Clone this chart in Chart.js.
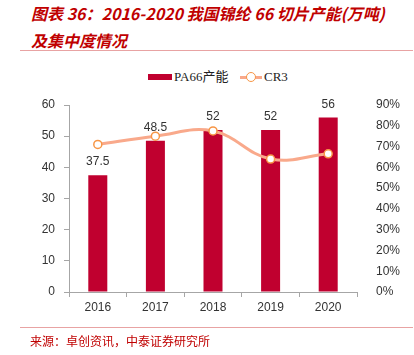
<!DOCTYPE html>
<html>
<head>
<meta charset="utf-8">
<script src="https://cdn.jsdelivr.net/npm/chart.js@4/dist/chart.umd.min.js"></script>
<style>
  html, body { margin: 0; padding: 0; background: #fff; }
  body { width: 414px; height: 355px; position: relative; overflow: hidden; }
  #c { position: absolute; left: 0; top: 0; }
  .title { position: absolute; left: 31px; color: #C00000; font-family: "Noto Sans CJK SC", sans-serif; font-weight: bold; font-style: italic; font-size: 16px; white-space: nowrap; line-height: 20px; }
  .rule { position: absolute; left: 20px; width: 393px; height: 1px; background: #E8A3A3; }
  .src { position: absolute; left: 30px; top: 333px; color: #C00000; font-family: "Noto Sans CJK SC", sans-serif; font-size: 12px; line-height: 16px; white-space: nowrap; }
  .lg { position: absolute; font-family: "Liberation Serif", "Noto Sans CJK SC", serif; font-size: 13px; line-height: 16px; color: #222; white-space: nowrap; }
</style>
</head>
<body>
<div class="title" id="t1" style="top:3px;"></div>
<div class="title" id="t2" style="top:30px;"></div>
<div class="rule" style="top:50px;"></div>
<div id="legend"></div>
<canvas id="c" width="414" height="355"></canvas>
<div class="rule" style="top:327px;"></div>
<div class="src" id="src"></div>
<script>
const titleLine1 = "图表 36：2016-2020 我国锦纶 66 切片产能(万吨)";
const titleLine2 = "及集中度情况";
const sourceText = "来源：卓创资讯，中泰证券研究所";
const categories = ["2016", "2017", "2018", "2019", "2020"];
const capacityLabel = "PA66产能";
const capacity = [37.5, 48.5, 52, 52, 56];
const cr3Label = "CR3";
const cr3 = [71, 75, 77.5, 64, 66.5];
const leftTicks = [0, 10, 20, 30, 40, 50, 60];
const rightTicks = [0, 10, 20, 30, 40, 50, 60, 70, 80, 90];

const barColor = "#C0002F";
const lineColor = "#F9A98B";
const pointBorder = "#F79646";

document.getElementById("t1").textContent = titleLine1;
document.getElementById("t2").textContent = titleLine2;
document.getElementById("src").textContent = sourceText;

// HTML legend
const lg = document.getElementById("legend");
lg.innerHTML =
  '<div style="position:absolute;left:148px;top:74px;width:24px;height:6px;background:' + barColor + '"></div>' +
  '<div class="lg" style="left:174px;top:69px;">' + capacityLabel + '</div>' +
  '<div style="position:absolute;left:240px;top:76px;width:22px;height:3px;background:' + lineColor + '"></div>' +
  '<div style="position:absolute;left:246px;top:72px;border-radius:50%;background:#fff;border:1.5px solid ' + pointBorder + ';box-sizing:border-box;width:10px;height:10px;"></div>' +
  '<div class="lg" style="left:264px;top:69px;">' + cr3Label + '</div>';

const barLabels = {
  id: "barLabels",
  afterDatasetsDraw(chart) {
    const ctx = chart.ctx;
    const meta = chart.getDatasetMeta(1);
    ctx.save();
    ctx.font = "12px 'Liberation Sans', Arial, sans-serif";
    ctx.fillStyle = "#333";
    ctx.textAlign = "center";
    ctx.textBaseline = "middle";
    meta.data.forEach((el, i) => {
      ctx.fillText(String(capacity[i]), el.x, el.y - 13);
    });
    ctx.restore();
  }
};

const tickFont = { family: "'Liberation Sans', Arial, sans-serif", size: 12 };

new Chart(document.getElementById("c"), {
  data: {
    labels: categories,
    datasets: [
      {
        type: "line", label: cr3Label, data: cr3, yAxisID: "y1", order: 1,
        borderColor: lineColor, borderWidth: 3, tension: 0.4,
        pointRadius: 4, pointBackgroundColor: "#fff", pointBorderColor: pointBorder, pointBorderWidth: 1.5
      },
      {
        type: "bar", label: capacityLabel, data: capacity, yAxisID: "y", order: 2,
        backgroundColor: barColor, barPercentage: 0.33, categoryPercentage: 1.0
      }
    ]
  },
  options: {
    responsive: false,
    animation: false,
    events: [],
    layout: { padding: { top: 105, left: 0, right: 0, bottom: 0 } },
    plugins: { legend: { display: false }, tooltip: { enabled: false } },
    scales: {
      x: {
        offset: true,
        grid: { offset: true, drawOnChartArea: false, drawTicks: true, tickLength: 5, color: "#A6A6A6" },
        border: { display: true, color: "#A6A6A6", width: 1 },
        ticks: { font: tickFont, color: "#333", padding: 3, maxRotation: 0 },
        afterFit(s) { s.height = 63; }
      },
      y: {
        position: "left", min: 0, max: 60,
        afterBuildTicks(s) { s.ticks = leftTicks.map(v => ({ value: v })); },
        grid: { drawOnChartArea: false, drawTicks: true, tickLength: 5, color: "#A6A6A6" },
        border: { display: true, color: "#A6A6A6", width: 1 },
        ticks: { font: tickFont, color: "#333", padding: 9 },
        afterFit(s) { s.width = 69; }
      },
      y1: {
        position: "right", min: 0, max: 90,
        afterBuildTicks(s) { s.ticks = rightTicks.map(v => ({ value: v })); },
        grid: { display: false },
        border: { display: false },
        ticks: { font: tickFont, color: "#333", padding: 11, callback: v => v + "%" },
        afterFit(s) { s.width = 57; }
      }
    }
  },
  plugins: [barLabels]
});
</script>
</body>
</html>
